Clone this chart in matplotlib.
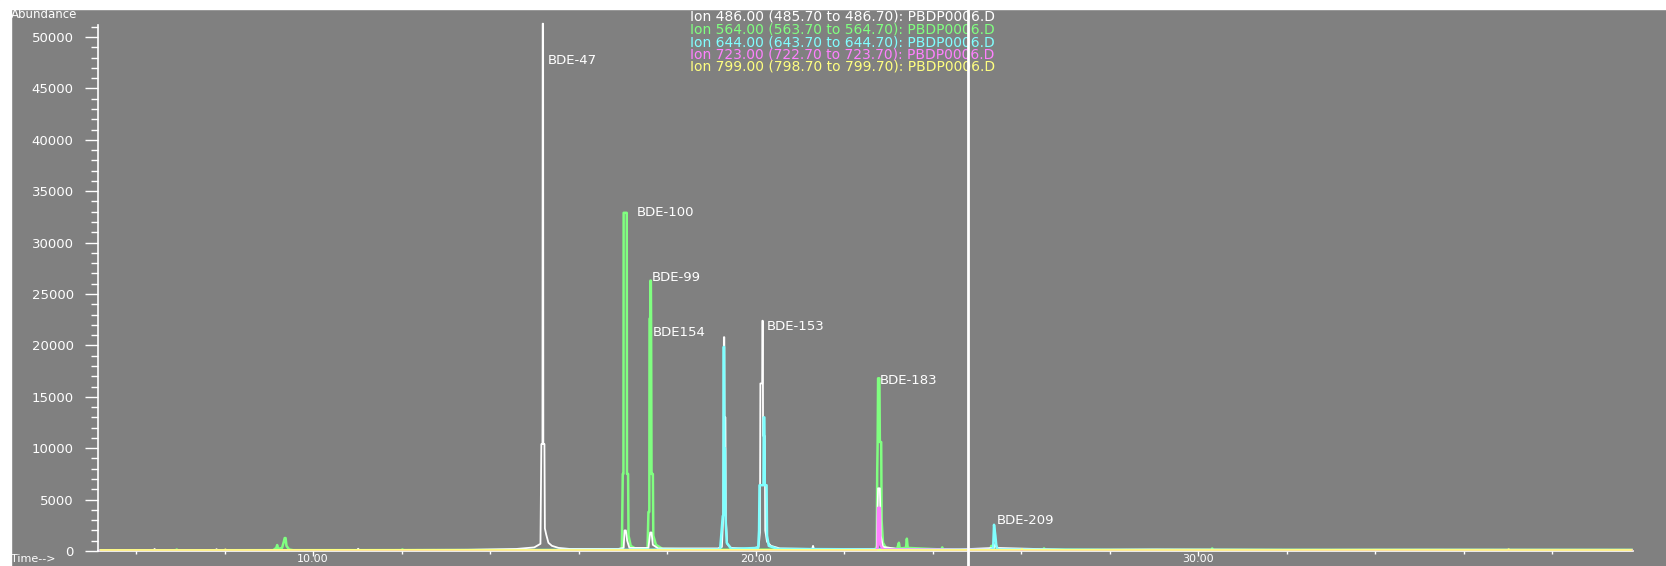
import matplotlib
matplotlib.use("Agg")
import matplotlib.pyplot as plt
from matplotlib.ticker import MultipleLocator, FormatStrFormatter
from matplotlib.lines import Line2D
from matplotlib.patches import Rectangle

"""
PBDE chromatogram, 5 ions, PBDP0006.D
"""

#ion 486 (white)
t486 = [5.20, 6.40, 6.42, 6.44, 7.80, 7.82, 7.84, 11.00, 11.02, 11.04, 13.50, 14.60, 15.00, 15.14,
        15.16, 15.185, 15.19, 15.20, 15.205, 15.23, 15.24, 15.27, 15.32, 15.40, 15.55, 15.80, 16.90,
        17.02, 17.04, 17.07, 17.10, 17.15, 17.58, 17.62, 17.65, 17.68, 17.80, 19.15, 19.24, 19.27,
        19.285, 19.295, 19.30, 19.32, 19.33, 19.36, 19.45, 19.90, 20.07, 20.10, 20.11, 20.15, 20.155,
        20.165, 20.17, 20.21, 20.22, 20.26, 20.35, 20.55, 21.28, 21.30, 21.32, 22.74, 22.77, 22.81,
        22.83, 22.88, 23.20, 24.60, 25.39, 25.42, 25.45, 27.00, 29.00, 32.00, 35.00, 39.80]
a486 = [80, 90, 200, 90, 90, 180, 90, 100, 220, 100, 120, 200, 350, 700,
        10400, 10400, 51300, 51300, 10400, 10400, 2200, 1600, 800, 500, 300, 200, 200,
        300, 2000, 2000, 1000, 300, 300, 1800, 1800, 600, 250, 250, 400, 3400,
        20800, 20800, 13000, 13000, 3000, 700, 300, 200, 400, 1800, 16300, 16300, 22400,
        22400, 11200, 11200, 2000, 900, 500, 250, 200, 500, 200, 200, 6100, 6100,
        1500, 400, 200, 150, 300, 700, 300, 120, 150, 120, 130, 120]

#ion 564 (green)
t564 = [5.20, 6.90, 6.92, 6.94, 9.10, 9.17, 9.19, 9.21, 9.30, 9.34, 9.36, 9.38, 9.40, 9.46, 9.55,
        12.00, 12.02, 12.04, 16.90, 16.98, 17.00, 17.015, 17.02, 17.09, 17.095, 17.12, 17.13, 17.18,
        17.30, 17.56, 17.58, 17.60, 17.605, 17.62, 17.625, 17.635, 17.64, 17.65, 17.68, 17.69, 17.75,
        17.90, 19.00, 22.70, 22.74, 22.75, 22.76, 22.77, 22.80, 22.81, 22.84, 22.85, 22.88, 22.95,
        23.20, 23.24, 23.26, 23.40, 23.42, 23.44, 24.20, 24.22, 24.24, 25.30, 25.33, 25.36, 26.50,
        26.52, 26.54, 28.00, 30.30, 30.32, 30.34, 33.00, 36.00, 39.80]
a564 = [60, 70, 150, 70, 80, 300, 580, 200, 300, 900, 1260, 1260, 500, 150, 80,
        80, 150, 80, 100, 300, 7500, 7500, 32900, 32900, 7500, 7500, 1500, 500,
        200, 200, 3800, 3800, 22600, 22600, 26300, 26300, 22600, 7500, 7500, 1500, 600,
        200, 120, 150, 400, 7700, 10600, 16800, 16800, 10600, 10600, 3000, 800, 300,
        200, 800, 250, 300, 1200, 300, 150, 350, 150, 150, 500, 150, 120,
        260, 120, 100, 110, 250, 110, 100, 100, 100]

#ion 644 (cyan)
t644 = [5.20, 10.50, 15.00, 19.20, 19.26, 19.275, 19.28, 19.29, 19.295, 19.31, 19.32, 19.35, 19.45,
        20.06, 20.08, 20.09, 20.18, 20.185, 20.20, 20.21, 20.25, 20.26, 20.30, 20.50, 25.30, 25.37,
        25.39, 25.42, 25.44, 25.47, 28.00, 33.00, 39.80]
a644 = [60, 70, 80, 150, 3400, 3500, 19850, 19850, 10000, 10000, 3500, 800, 200,
        300, 2000, 6400, 6400, 13000, 13000, 6400, 6400, 1500, 500, 200, 100, 300,
        2550, 1500, 600, 150, 90, 80, 80]

#ion 723 (magenta)
t723 = [5.20, 12.00, 17.00, 22.72, 22.76, 22.77, 22.81, 22.82, 22.88, 25.40, 30.00, 39.80]
a723 = [40, 50, 60, 80, 300, 4200, 4200, 600, 150, 80, 60, 60]

#ion 799 (yellow)
t799 = [5.20, 8.00, 8.02, 8.04, 12.00, 16.00, 20.00, 24.00, 26.00, 26.02, 26.04, 30.00, 34.00,
        37.00, 37.02, 37.04, 39.80]
a799 = [100, 100, 160, 100, 110, 100, 110, 100, 110, 200, 110, 100, 110, 100, 180, 100, 100]

ions = ['Ion 486.00 (485.70 to 486.70): PBDP0006.D',
        'Ion 564.00 (563.70 to 564.70): PBDP0006.D',
        'Ion 644.00 (643.70 to 644.70): PBDP0006.D',
        'Ion 723.00 (722.70 to 723.70): PBDP0006.D',
        'Ion 799.00 (798.70 to 799.70): PBDP0006.D']
ion_cols = ['white', '#80ff80', '#80ffff', '#ff80ff', '#ffff80']

peak_names = ['BDE-47', 'BDE-100', 'BDE-99', 'BDE154', 'BDE-153', 'BDE-183', 'BDE-209']
peak_t = [15.31, 17.32, 17.66, 17.68, 20.26, 22.81, 25.46]
peak_a = [47700, 32900, 26600, 21300, 21800, 16600, 3000]

cursor_t = 24.80

W, H = 1666, 566
gray = '#808080'
fs = 9.5

fig = plt.figure(figsize=(W/100, H/100), dpi=100, facecolor=gray)
ax = fig.add_axes([98/W, 15/H, (1633-98)/W, (551-25)/H])
ax.set_facecolor(gray)

#traces, green first so the others sit on top
ax.plot(t564, a564, color=ion_cols[1], lw=1.8, zorder=2)
ax.plot(t486, a486, color=ion_cols[0], lw=1.3, zorder=3, clip_on=False)
ax.plot(t644, a644, color=ion_cols[2], lw=1.8, zorder=4)
ax.plot(t723, a723, color=ion_cols[3], lw=1.8, zorder=5)
ax.plot(t799, a799, color=ion_cols[4], lw=1.3, zorder=6)

for name, t, a in zip(peak_names, peak_t, peak_a):
    ax.text(t, a, name, color='white', fontsize=fs, va='center', ha='left', zorder=7)

ax.set_xlim(5.141, 39.83)
ax.set_ylim(0, 51170)

ax.xaxis.set_major_locator(MultipleLocator(10))
ax.xaxis.set_minor_locator(MultipleLocator(2))
ax.xaxis.set_major_formatter(FormatStrFormatter('%.2f'))
ax.yaxis.set_major_locator(MultipleLocator(5000))
ax.yaxis.set_minor_locator(MultipleLocator(1000))

for s in ['top', 'right']:
    ax.spines[s].set_visible(False)
for s in ['left', 'bottom']:
    ax.spines[s].set_color('white')
    ax.spines[s].set_linewidth(1.2)

ax.tick_params(axis='y', which='major', direction='out', length=9.5, width=1, color='white',
               labelcolor='white', labelsize=fs, pad=8)
ax.tick_params(axis='y', which='minor', direction='out', length=5, width=1, color='white')
ax.tick_params(axis='x', which='major', direction='out', length=3.5, width=1, color='white',
               labelcolor='white', labelsize=8, pad=-1.5)
ax.tick_params(axis='x', which='minor', direction='out', length=2.5, width=1, color='white')

#header text
fig.text(11/W, 1 - 15/H, 'Abundance', color='white', fontsize=8.5, va='center', ha='left')
fig.text(11/W, 1 - 559/H, 'Time-->', color='white', fontsize=8, va='center', ha='left')
for i, (lab, c) in enumerate(zip(ions, ion_cols)):
    fig.text(690/W, 1 - (17 + 12.5*i)/H, lab, color=c, fontsize=10, va='center', ha='left')

#white strips round the screen grab
fig.add_artist(Rectangle((0, 1 - 9/H), 1, 9/H, transform=fig.transFigure, color='white', zorder=8))
fig.add_artist(Rectangle((0, 0), 11/W, 1, transform=fig.transFigure, color='white', zorder=8))

#cursor line
xc = ax.transData.transform((cursor_t, 0))[0] / W
fig.add_artist(Line2D([xc, xc], [0, 1 - 9/H], transform=fig.transFigure, color='white', lw=2, zorder=9))

fig.savefig('out.png', dpi=100, facecolor=gray)
